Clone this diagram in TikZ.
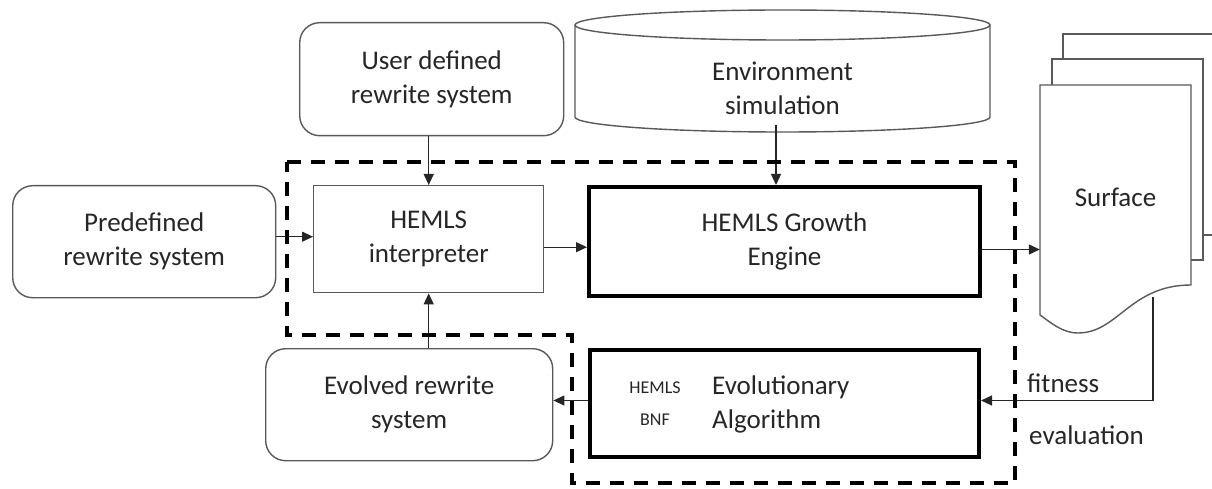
\documentclass[tikz,border=0pt]{standalone}
\usepackage{fontspec}
\setmainfont{Carlito}
\usetikzlibrary{arrows.meta}
\begin{document}
\begin{tikzpicture}[x=1pt,y=-1pt,
  txt/.style={font=\fontsize{27}{34}\selectfont, text=black!85, align=center, inner sep=3pt},
  rbox/.style={draw=black!65, line width=1.4pt, rounded corners=20pt, txt, anchor=north west},
  pbox/.style={draw=black!65, line width=1.4pt, txt, anchor=north west},
  tbox/.style={draw=black, line width=4pt, txt, anchor=north west},
  shapeline/.style={draw=black!65, line width=1.4pt, fill=white},
  conn/.style={line width=1.2pt, draw=black!85, -{Triangle[length=11pt,width=10pt]}},
  bound/.style={line width=4.5pt, draw=black, dash pattern=on 14pt off 10pt}
]
\useasboundingbox (0,0) rectangle (1212,489);
\clip (0,0) rectangle (1212,489);

% boxes
\node[rbox, minimum width=263pt, minimum height=112pt] (pre) at (12,185) {Predefined\\rewrite system};
\node[rbox, minimum width=264pt, minimum height=113pt] (user) at (299,22) {User defined\\rewrite system};
\node[pbox, minimum width=230pt, minimum height=107pt] (interp) at (313,185) {HEMLS\\interpreter};
\node[tbox, minimum width=391pt, minimum height=109pt] (growth) at (587,185) {HEMLS Growth\\Engine};
\node[tbox, minimum width=389pt, minimum height=107pt] (evo) at (588,348) {};
\node[rbox, minimum width=287pt, minimum height=112pt] (evolved) at (265,348) {Evolved rewrite\\system};
\node[font=\fontsize{18}{32}\selectfont, text=black!85, align=center] (bnf) at (655,404) {HEMLS\\BNF};
\node[txt, align=left, anchor=west] (ea) at (709,404) {Evolutionary\\Algorithm};

% cylinder
\draw[shapeline] (575,25) -- (575,117) arc[start angle=180, end angle=360, x radius=207.5pt, y radius=15pt] -- (990,25);
\draw[shapeline] (782.5,25) ellipse [x radius=207.5pt, y radius=15pt];
\node[txt, minimum width=415pt, minimum height=74pt] (env) at (782.5,88) {Environment\\simulation};

% surface pages
\filldraw[shapeline] (1063,34) rectangle (1240,235);
\filldraw[shapeline] (1052,59) rectangle (1203,260);
\filldraw[shapeline] (1040,85) -- (1191,85) -- (1191,285)
  .. controls (1130,285) and (1118,333) .. (1078,333)
  .. controls (1062,333) and (1050,322) .. (1040,315) -- cycle;
\node[txt, minimum width=151pt, minimum height=230pt] (surf) at (1115.5,197) {Surface};
\coordinate (fit) at (1153,297);

% connectors
\draw[conn] ([yshift=5pt]pre.east) -- ([yshift=5pt]pre.east -| interp.west);
\draw[conn] (interp.north |- user.south) -- (interp.north);
\draw[conn] ([yshift=-8pt]interp.east) -- ([yshift=-8pt]interp.east -| growth.west);
\draw[conn] (env.south -| 776,0) -- (growth.north -| 776,0);
\draw[conn] ([yshift=-8pt]growth.east) -- ([yshift=-8pt]growth.east -| surf.west);
\draw[conn] (fit) |- ([yshift=3pt]evo.east);
\draw[conn] ([yshift=3pt]evo.west) -- ([yshift=3pt]evo.west -| evolved.east);
\draw[conn] (interp.south |- evolved.north) -- (interp.south);

\node[txt, anchor=west] (fitl) at (1024,383) {fitness};
\node[txt, anchor=west] (evl) at (1026,435) {evaluation};

% dashed boundary
\draw[bound] (287,162) -- (1015,162) -- (1015,483) -- (572,483) -- (572,335) -- (287,335) -- cycle;
\end{tikzpicture}
\end{document}
